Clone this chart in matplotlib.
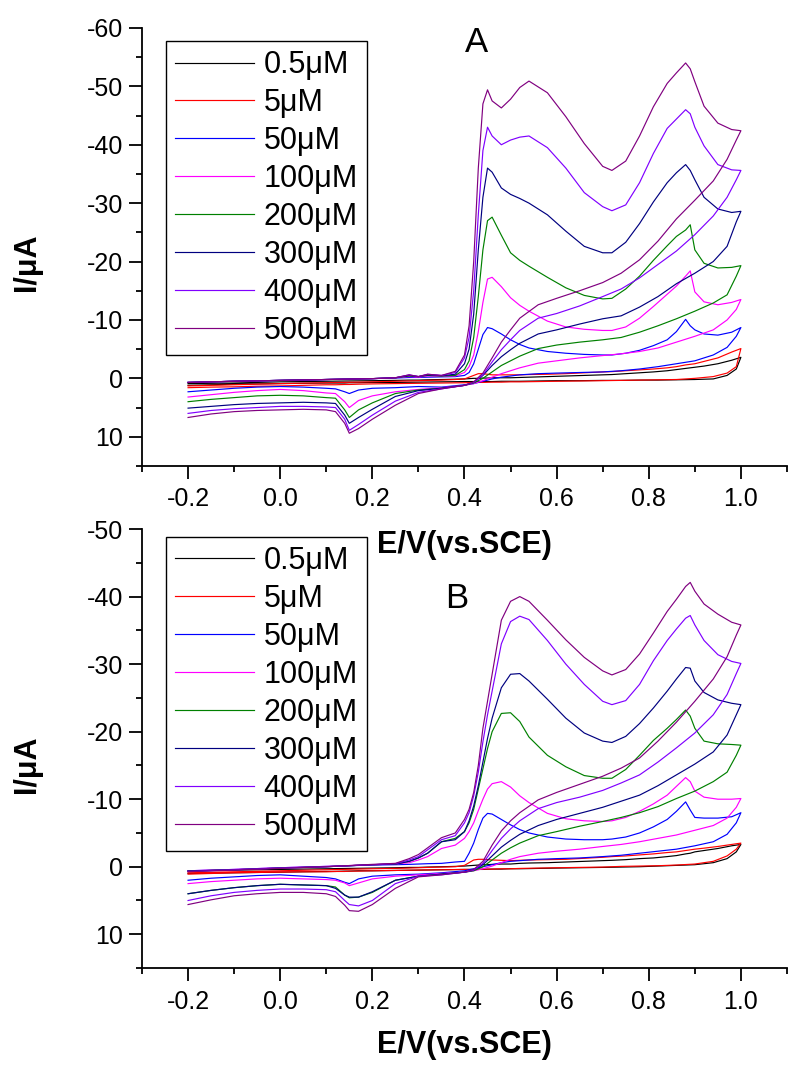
import matplotlib.pyplot as plt
from matplotlib.ticker import MultipleLocator, FormatStrFormatter

plt.rcParams['font.family'] = ['Liberation Sans', 'DejaVu Sans']
plt.rcParams['axes.unicode_minus'] = False

# --- Data ---
labels = ["0.5μM", "5μM", "50μM", "100μM", "200μM", "300μM", "400μM", "500μM"]
colors = ["#000000", "#FF0000", "#0000FF", "#FF00FF",
          "#008000", "#000080", "#8000FF", "#800080"]

# potential grid (V vs SCE): forward scan and reverse scan
E_FWD = [-0.2, -0.1, 0.0, 0.1, 0.2, 0.25, 0.28, 0.30, 0.32, 0.35, 0.38, 0.40, 0.41,
         0.42, 0.43, 0.44, 0.45, 0.46, 0.48, 0.50, 0.52, 0.54, 0.58, 0.62, 0.66,
         0.70, 0.72, 0.75, 0.78, 0.81, 0.84, 0.86, 0.88, 0.89, 0.90, 0.92, 0.95,
         0.98, 1.0]
E_REV = [1.0, 0.99, 0.97, 0.94, 0.90, 0.86, 0.82, 0.78, 0.74, 0.70, 0.65, 0.60,
         0.56, 0.52, 0.50, 0.48, 0.46, 0.44, 0.42, 0.40, 0.35, 0.30, 0.25, 0.20,
         0.17, 0.15, 0.14, 0.12, 0.10, 0.05, 0.0, -0.05, -0.1, -0.15, -0.2]

# panel A currents (uA), forward scan
a_fwd_05 = [0.9, 0.8, 0.6, 0.5, 0.4, 0.35, 0.3, 0.3, 0.25, 0.2, 0.15, 0.1, 0.05, 0.0, 0.0,
            -0.05, -0.05, -0.1, -0.1, -0.1, -0.15, -0.2, -0.3, -0.4, -0.5, -0.6, -0.65,
            -0.8, -0.95, -1.1, -1.3, -1.5, -1.7, -1.8, -1.9, -2.1, -2.5, -3.1, -3.6]
a_fwd_5 = [1.3, 1.1, 0.9, 0.75, 0.6, 0.5, 0.45, 0.4, 0.35, 0.3, 0.2, 0.1, -0.2, -0.5, -0.8,
           -0.8, -0.7, -0.6, -0.6, -0.6, -0.6, -0.65, -0.7, -0.8, -0.95, -1.1, -1.15,
           -1.3, -1.45, -1.6, -1.8, -2.0, -2.3, -2.4, -2.5, -2.9, -3.5, -4.5, -5.1]
a_fwd_50 = [0.7, 0.5, 0.35, 0.2, 0.05, -0.05, -0.15, -0.15, -0.2, -0.25, -0.3, -0.5, -1.0,
            -2.5, -5.0, -7.5, -8.7, -8.5, -7.6, -6.6, -5.8, -5.2, -4.6, -4.3, -4.1, -4.0,
            -4.0, -4.3, -4.8, -5.6, -6.6, -8.0, -10.1, -9.0, -8.3, -7.6, -7.4, -7.9, -8.7]
a_fwd_100 = [0.7, 0.5, 0.35, 0.2, 0.05, -0.1, -0.3, -0.2, -0.4, -0.35, -0.4, -1.0, -2.0,
             -4.0, -8.0, -13.0, -17.0, -17.3, -15.7, -13.8, -12.5, -11.5, -9.8, -8.8, -8.4,
             -8.2, -8.2, -8.8, -10.3, -12.3, -14.4, -15.8, -17.5, -18.4, -14.8, -13.1,
             -12.6, -13.0, -13.5]
a_fwd_200 = [0.7, 0.5, 0.35, 0.2, 0.05, -0.1, -0.4, -0.3, -0.5, -0.4, -0.5, -1.5, -3.0,
             -7.0, -14.0, -22.0, -27.0, -27.6, -24.5, -21.5, -20.2, -19.2, -17.3, -15.5,
             -14.2, -13.6, -13.7, -15.3, -17.5, -20.2, -22.7, -24.3, -25.4, -26.3, -22.0,
             -19.7, -18.9, -19.0, -19.3]
a_fwd_300 = [0.7, 0.5, 0.35, 0.2, 0.05, -0.1, -0.5, -0.3, -0.6, -0.45, -0.7, -2.5, -5.0,
             -11.0, -22.0, -31.0, -36.0, -35.3, -32.6, -31.5, -30.8, -30.0, -28.0, -25.2,
             -22.6, -21.5, -21.5, -23.3, -26.5, -30.2, -33.5, -35.2, -36.6, -35.6, -34.0,
             -31.0, -29.0, -28.4, -28.6]
a_fwd_400 = [0.7, 0.5, 0.35, 0.2, 0.05, -0.1, -0.6, -0.3, -0.7, -0.5, -1.0, -3.5, -7.0,
             -15.0, -28.0, -39.0, -43.0, -41.5, -40.0, -40.8, -41.3, -41.5, -39.5, -36.0,
             -31.8, -29.4, -28.7, -29.7, -33.5, -38.5, -42.8, -44.4, -46.0, -45.3, -43.0,
             -39.8, -36.6, -35.7, -35.6]
a_fwd_500 = [0.7, 0.5, 0.35, 0.2, 0.05, -0.1, -0.6, -0.3, -0.7, -0.5, -1.2, -4.0, -9.0,
             -20.0, -36.0, -47.0, -49.4, -47.5, -46.3, -47.8, -49.8, -50.9, -48.9, -44.8,
             -40.2, -36.3, -35.6, -37.2, -41.5, -46.5, -50.5, -52.3, -54.0, -53.0, -50.8,
             -46.6, -43.7, -42.6, -42.4]

# panel A currents (uA), reverse scan
a_rev_05 = [-3.6, -1.6, -0.5, 0.1, 0.2, 0.25, 0.3, 0.3, 0.35, 0.35, 0.4, 0.4, 0.45, 0.5,
            0.5, 0.5, 0.55, 0.55, 0.55, 0.55, 0.6, 0.65, 0.7, 0.7, 0.75, 0.75, 0.8, 0.8,
            0.8, 0.85, 0.9, 0.95, 1.0, 1.1, 1.2]
a_rev_5 = [-5.1, -2.0, -0.9, -0.3, 0.0, 0.2, 0.25, 0.3, 0.35, 0.4, 0.45, 0.5, 0.55, 0.6,
           0.6, 0.65, 0.65, 0.7, 0.7, 0.75, 0.8, 0.85, 0.9, 0.95, 1.0, 1.05, 1.05, 1.1,
           1.1, 1.2, 1.3, 1.35, 1.45, 1.5, 1.6]
a_rev_50 = [-8.7, -7.2, -5.3, -4.0, -3.0, -2.5, -2.0, -1.6, -1.3, -1.1, -1.0, -0.9, -0.8,
            -0.6, -0.4, -0.2, 0.1, 0.5, 0.9, 1.1, 1.5, 1.4, 1.6, 1.7, 2.0, 2.6, 2.3, 1.8,
            1.7, 1.5, 1.4, 1.5, 1.7, 2.0, 2.3]
a_rev_100 = [-13.5, -11.8, -10.0, -8.3, -7.2, -6.2, -5.2, -4.6, -4.2, -3.9, -3.5, -3.0,
             -2.6, -1.8, -1.3, -0.8, -0.2, 0.4, 0.9, 1.2, 1.6, 1.9, 2.3, 3.0, 3.8, 5.0,
             4.0, 2.6, 2.5, 2.1, 1.9, 2.1, 2.4, 2.8, 3.2]
a_rev_200 = [-19.3, -17.5, -14.3, -12.9, -11.5, -10.2, -9.0, -7.9, -7.0, -6.6, -6.2, -5.7,
             -5.1, -3.8, -3.0, -2.2, -1.1, 0.0, 0.8, 1.2, 1.7, 2.0, 2.6, 4.2, 5.4, 6.7,
             5.4, 3.4, 3.3, 3.0, 2.9, 3.0, 3.3, 3.6, 4.0]
a_rev_300 = [-28.6, -26.8, -22.6, -20.0, -18.0, -16.2, -14.0, -12.2, -10.7, -10.2, -9.3,
             -8.3, -7.6, -6.0, -4.9, -3.7, -2.2, -0.5, 0.7, 1.2, 1.7, 2.1, 3.1, 5.3, 6.7,
             7.7, 6.3, 4.3, 4.2, 4.1, 4.2, 4.3, 4.5, 4.8, 5.1]
a_rev_400 = [-35.6, -34.0, -31.0, -27.8, -24.6, -21.8, -19.5, -17.2, -15.3, -14.0, -12.4,
             -11.1, -10.3, -8.2, -6.6, -4.9, -2.8, -0.6, 0.7, 1.2, 1.8, 2.4, 3.9, 6.3, 7.9,
             8.9, 7.0, 5.0, 4.9, 4.8, 4.8, 5.0, 5.2, 5.5, 6.0]
a_rev_500 = [-42.4, -40.8, -37.5, -33.8, -30.5, -27.3, -23.5, -20.3, -18.0, -16.4, -15.0,
             -13.7, -12.6, -10.3, -8.3, -6.2, -3.5, -0.9, 0.6, 1.2, 1.8, 2.6, 4.6, 7.0,
             8.6, 9.4, 7.7, 5.7, 5.4, 5.3, 5.4, 5.5, 5.7, 6.1, 6.7]

# panel B currents (uA), forward scan
b_fwd_05 = [0.6, 0.5, 0.4, 0.3, 0.2, 0.15, 0.1, 0.1, 0.05, 0.0, -0.05, -0.1, -0.15, -0.2,
            -0.25, -0.3, -0.3, -0.35, -0.4, -0.4, -0.5, -0.55, -0.6, -0.7, -0.8, -0.9,
            -0.95, -1.05, -1.2, -1.3, -1.5, -1.65, -1.9, -2.0, -2.2, -2.4, -2.7, -3.1, -3.3]
b_fwd_5 = [0.9, 0.75, 0.6, 0.45, 0.3, 0.25, 0.2, 0.15, 0.1, 0.05, 0.0, -0.2, -0.6, -1.0,
           -1.1, -1.1, -1.05, -1.0, -0.95, -0.9, -0.95, -1.0, -1.05, -1.1, -1.25, -1.4,
           -1.5, -1.6, -1.75, -1.9, -2.1, -2.2, -2.4, -2.5, -2.6, -2.75, -3.0, -3.3, -3.5]
b_fwd_50 = [0.6, 0.4, 0.15, -0.05, -0.25, -0.3, -0.35, -0.4, -0.45, -0.5, -0.7, -0.8,
            -2.0, -3.5, -5.5, -7.2, -7.9, -7.8, -7.0, -6.2, -5.5, -5.0, -4.4, -4.1, -4.0,
            -4.0, -4.1, -4.4, -5.0, -5.9, -7.0, -8.2, -9.6, -8.4, -7.3, -7.2, -7.2, -7.4,
            -8.0]
b_fwd_100 = [0.6, 0.4, 0.15, -0.05, -0.3, -0.4, -0.6, -1.0, -1.5, -2.7, -3.2, -4.2, -5.2,
             -6.5, -8.3, -10.0, -11.5, -12.3, -12.6, -11.8, -10.5, -9.5, -7.9, -7.1, -6.8,
             -6.7, -6.8, -7.3, -8.2, -9.3, -10.6, -11.9, -13.2, -12.6, -11.2, -10.3,
             -10.0, -10.0, -10.1]
b_fwd_200 = [0.65, 0.45, 0.2, 0.0, -0.3, -0.4, -0.8, -1.3, -2.0, -3.7, -4.2, -5.2, -6.5,
             -8.5, -11.5, -14.5, -17.5, -20.0, -22.7, -22.8, -21.5, -19.2, -16.5, -14.8,
             -13.5, -13.1, -13.1, -14.4, -16.5, -18.7, -20.5, -21.8, -23.2, -22.3, -20.5,
             -18.6, -18.2, -18.1, -18.0]
b_fwd_300 = [0.65, 0.45, 0.2, 0.0, -0.3, -0.4, -0.8, -1.3, -2.0, -3.7, -4.0, -5.2, -6.8,
             -9.0, -12.0, -15.5, -19.0, -22.0, -26.5, -28.5, -28.6, -27.5, -24.8, -22.0,
             -19.8, -18.6, -18.4, -19.3, -21.2, -23.5, -26.0, -27.8, -29.5, -29.4, -27.5,
             -25.8, -24.7, -24.2, -24.0]
b_fwd_400 = [0.7, 0.45, 0.2, 0.0, -0.3, -0.45, -1.0, -1.5, -2.5, -4.0, -4.6, -6.5, -8.0,
             -10.5, -14.0, -18.5, -22.5, -26.0, -33.0, -36.3, -37.1, -36.6, -33.5, -30.0,
             -27.0, -24.5, -24.0, -24.6, -27.0, -30.5, -33.5, -35.2, -36.8, -37.2, -35.8,
             -33.5, -31.4, -30.4, -30.1]
b_fwd_500 = [0.74, 0.5, 0.25, 0.0, -0.35, -0.5, -1.2, -1.8, -2.8, -4.3, -5.0, -7.0, -8.5,
             -11.0, -15.0, -20.5, -24.5, -28.5, -36.5, -39.3, -40.0, -39.3, -36.5, -33.6,
             -31.0, -29.0, -28.4, -29.2, -31.5, -34.6, -37.8, -39.6, -41.5, -42.1, -40.8,
             -38.9, -37.4, -36.2, -35.8]

# panel B currents (uA), reverse scan
b_rev_05 = [-3.3, -2.2, -1.2, -0.6, -0.3, -0.2, -0.1, 0.0, 0.05, 0.1, 0.15, 0.2, 0.25,
            0.3, 0.3, 0.35, 0.35, 0.4, 0.4, 0.4, 0.45, 0.5, 0.55, 0.6, 0.6, 0.65, 0.65,
            0.7, 0.7, 0.75, 0.8, 0.85, 0.9, 0.95, 1.0]
b_rev_5 = [-3.5, -2.6, -1.6, -0.8, -0.4, -0.25, -0.15, -0.1, -0.05, 0.05, 0.1, 0.15, 0.2,
           0.25, 0.3, 0.3, 0.35, 0.35, 0.4, 0.4, 0.45, 0.5, 0.55, 0.6, 0.65, 0.65, 0.7,
           0.7, 0.75, 0.75, 0.8, 0.85, 0.9, 1.0, 1.1]
b_rev_50 = [-8.0, -6.5, -4.8, -3.7, -3.1, -2.6, -2.3, -2.0, -1.7, -1.5, -1.3, -1.2, -1.1,
            -0.9, -0.8, -0.6, -0.3, 0.0, 0.3, 0.6, 0.9, 1.1, 1.2, 1.4, 1.8, 2.5, 2.3, 1.8,
            1.6, 1.4, 1.2, 1.3, 1.5, 1.7, 2.0]
b_rev_100 = [-10.1, -8.8, -7.2, -6.1, -5.4, -4.7, -4.2, -3.7, -3.3, -3.0, -2.6, -2.3,
             -2.0, -1.5, -1.1, -0.6, -0.1, 0.3, 0.6, 0.8, 1.0, 1.2, 1.4, 1.8, 2.4, 2.8,
             2.4, 2.0, 1.9, 1.8, 1.7, 1.8, 2.0, 2.2, 2.5]
b_rev_200 = [-18.0, -16.5, -14.0, -12.6, -11.2, -10.1, -8.9, -8.0, -7.3, -6.7, -6.0,
             -5.2, -4.6, -3.5, -2.8, -2.0, -1.0, 0.0, 0.6, 0.8, 1.1, 1.4, 2.0, 3.8, 4.5,
             4.6, 4.2, 3.0, 2.8, 2.7, 2.6, 2.8, 3.1, 3.5, 4.0]
b_rev_300 = [-24.0, -22.5, -19.5, -17.0, -15.2, -13.6, -12.0, -10.6, -9.7, -8.8, -7.9,
             -7.0, -6.1, -4.8, -3.9, -2.9, -1.6, -0.3, 0.5, 0.8, 1.1, 1.4, 2.0, 3.7, 4.5,
             4.5, 4.2, 3.2, 2.8, 2.7, 2.6, 2.8, 3.1, 3.5, 4.0]
b_rev_400 = [-30.1, -28.6, -25.5, -22.5, -19.8, -17.6, -15.5, -13.6, -12.4, -11.3, -10.3,
             -9.5, -8.6, -6.8, -5.6, -4.2, -2.4, -0.5, 0.5, 0.8, 1.2, 1.4, 2.5, 5.0, 5.8,
             5.6, 5.0, 3.7, 3.4, 3.3, 3.3, 3.5, 3.8, 4.3, 5.0]
b_rev_500 = [-35.8, -34.3, -31.1, -27.8, -24.5, -21.4, -18.6, -16.1, -14.6, -13.4, -12.2,
             -11.0, -9.9, -8.0, -6.8, -5.3, -3.2, -0.8, 0.4, 0.8, 1.2, 1.5, 3.2, 5.6, 6.6,
             6.5, 5.7, 4.4, 4.0, 3.8, 3.8, 4.0, 4.3, 4.9, 5.6]

a_fwd = [a_fwd_05, a_fwd_5, a_fwd_50, a_fwd_100, a_fwd_200, a_fwd_300, a_fwd_400, a_fwd_500]
a_rev = [a_rev_05, a_rev_5, a_rev_50, a_rev_100, a_rev_200, a_rev_300, a_rev_400, a_rev_500]
b_fwd = [b_fwd_05, b_fwd_5, b_fwd_50, b_fwd_100, b_fwd_200, b_fwd_300, b_fwd_400, b_fwd_500]
b_rev = [b_rev_05, b_rev_5, b_rev_50, b_rev_100, b_rev_200, b_rev_300, b_rev_400, b_rev_500]


def draw_panel(ax, fwd, rev, ytop, letter, letter_xy, legend_top, ylabel_y, xlabel_y):
    for lab, col, f, r in zip(labels, colors, fwd, rev):
        ax.plot(E_FWD + E_REV, f + r, color=col, lw=0.85, label=lab)

    ax.set_xlim(-0.3, 1.1)
    ax.set_ylim(15, ytop)
    ax.xaxis.set_major_locator(MultipleLocator(0.2))
    ax.xaxis.set_minor_locator(MultipleLocator(0.1))
    ax.xaxis.set_major_formatter(FormatStrFormatter('%.1f'))
    ax.yaxis.set_major_locator(MultipleLocator(10))
    ax.yaxis.set_minor_locator(MultipleLocator(5))
    ax.yaxis.set_major_formatter(FormatStrFormatter('%d'))
    ax.tick_params(which='both', direction='out', width=1.3, labelsize=18)
    ax.tick_params(which='major', length=9.5)
    ax.tick_params(which='minor', length=4.5)
    ax.tick_params(axis='x', pad=6)
    ax.tick_params(axis='y', pad=4)

    ax.spines['top'].set_visible(False)
    ax.spines['right'].set_visible(False)
    ax.spines['left'].set_linewidth(1.3)
    ax.spines['bottom'].set_linewidth(1.3)
    ax.patch.set_visible(False)

    ax.set_xlabel("E/V(vs.SCE)", fontsize=22, fontweight='bold')
    ax.xaxis.set_label_coords(0.50, xlabel_y)
    ax.xaxis.label.set_va('center')
    ax.set_ylabel("I/μA", fontsize=22, fontweight='bold')
    ax.yaxis.set_label_coords(-0.178, ylabel_y)
    ax.yaxis.label.set_va('center')

    ax.text(letter_xy[0], letter_xy[1], letter, transform=ax.transAxes,
            fontsize=25, ha='center', va='center')

    leg = ax.legend(loc='upper left', bbox_to_anchor=(0.037, legend_top),
                    borderaxespad=0, fontsize=22, frameon=True, fancybox=False,
                    edgecolor='black', framealpha=1, handlelength=2.6,
                    handletextpad=0.3, labelspacing=0.26, borderpad=0.3)
    leg.get_frame().set_linewidth(1.0)


fig = plt.figure(figsize=(7.88, 10.66), dpi=100)
ax_a = fig.add_axes([0.1802, 0.5629, 0.8185, 0.4109])
ax_b = fig.add_axes([0.1802, 0.0919, 0.8185, 0.4118])

draw_panel(ax_a, a_fwd, a_rev, -60, "A", (0.519, 0.966), 0.970, 0.466, -0.180)
draw_panel(ax_b, b_fwd, b_rev, -50, "B", (0.488, 0.841), 0.982, 0.465, -0.175)

fig.savefig("out.png", dpi=100)
